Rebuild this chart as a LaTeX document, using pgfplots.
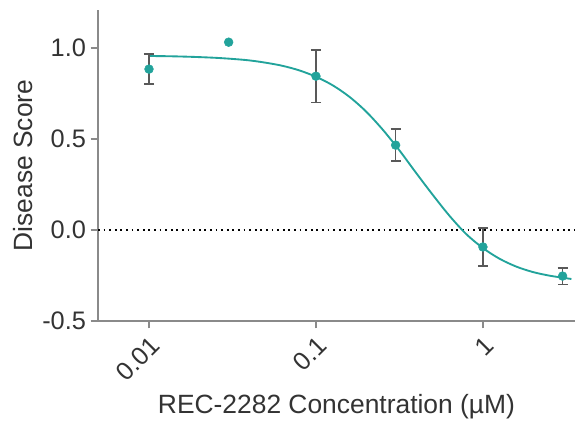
\documentclass[border=0pt]{standalone}
\usepackage{fontspec}
\setmainfont{Liberation Sans}
\usepackage{pgfplots}
\pgfplotsset{compat=1.18}
\definecolor{teal1}{HTML}{22A39B}
\definecolor{axgrey}{HTML}{8A8A8A}
\begin{document}
\begin{tikzpicture}[x=0.75pt,y=0.75pt]
\begin{axis}[
  name=ax,
  width=357.75pt, height=233.25pt, scale only axis,
  xmode=log, log basis x=10,
  xmin=0.00495, xmax=3.56,
  ymin=-0.5, ymax=1.21,
  axis x line*=bottom, axis y line*=left,
  axis line style={axgrey, line width=1.2pt},
  tick style={axgrey, line width=1.2pt},
  major tick length=5.5pt,
  tick align=outside,
  xtick={0.01,0.1,1}, xticklabels={0.01,0.1,1},
  minor xtick={},
  ytick={-0.5,0,0.5,1.0},
  yticklabels={-0.5,0.0,0.5,1.0},
  x tick label style={rotate=45, anchor=north east, font=\fontsize{19}{19}\selectfont, text=black!80},
  y tick label style={font=\fontsize{19}{19}\selectfont, text=black!80},
  xlabel={REC-2282 Concentration (µM)},
  ylabel={Disease Score},
  xlabel style={font=\fontsize{19.8}{20}\selectfont, text=black!80, yshift=-1pt},
  ylabel style={font=\fontsize{19.8}{20}\selectfont, text=black!80},
  clip=false,
]
\addplot[black, line width=1.4pt, dash pattern=on 1.3pt off 2.9pt] coordinates {(0.00495,0) (3.56,0)};
\addplot[teal1, line width=1.4pt, smooth] coordinates {
(0.01,0.957)(0.012589,0.956)(0.015849,0.954)(0.019953,0.951)(0.025119,0.947)
(0.031623,0.941)(0.039811,0.933)(0.050119,0.920)(0.063096,0.903)(0.079433,0.878)
(0.1,0.843)(0.12589,0.796)(0.15849,0.733)(0.19953,0.652)(0.25119,0.552)
(0.31623,0.438)(0.39811,0.314)(0.50119,0.193)(0.63096,0.078)(0.79433,-0.022)
(1,-0.099)(1.2589,-0.158)(1.5849,-0.201)(1.9953,-0.231)(2.5119,-0.251)
(3.1623,-0.265)(3.388,-0.269)};
\addplot[only marks, mark=*, mark size=3.3pt, color=teal1,
  error bars/.cd, y dir=both, y explicit,
  error bar style={black!65, line width=1.1pt}, error mark options={black!65, line width=1.1pt, mark size=3.8pt, rotate=90}]
  coordinates {
  (0.01,0.885) +- (0,0.083)
  (0.1,0.846) +- (0,0.145)
  (0.3,0.467) +- (0,0.088)
  (1,-0.093) +- (0,0.105)
  (3,-0.253) +- (0,0.045)
};
\addplot[only marks, mark=*, mark size=3.3pt, color=teal1] coordinates {(0.03,1.033)};
\end{axis}
\pgfresetboundingbox
\path ([shift={(-73.5pt,-76.5pt)}]ax.south west) rectangle ([shift={(0pt,7.5pt)}]ax.north east);
\end{tikzpicture}
\end{document}
